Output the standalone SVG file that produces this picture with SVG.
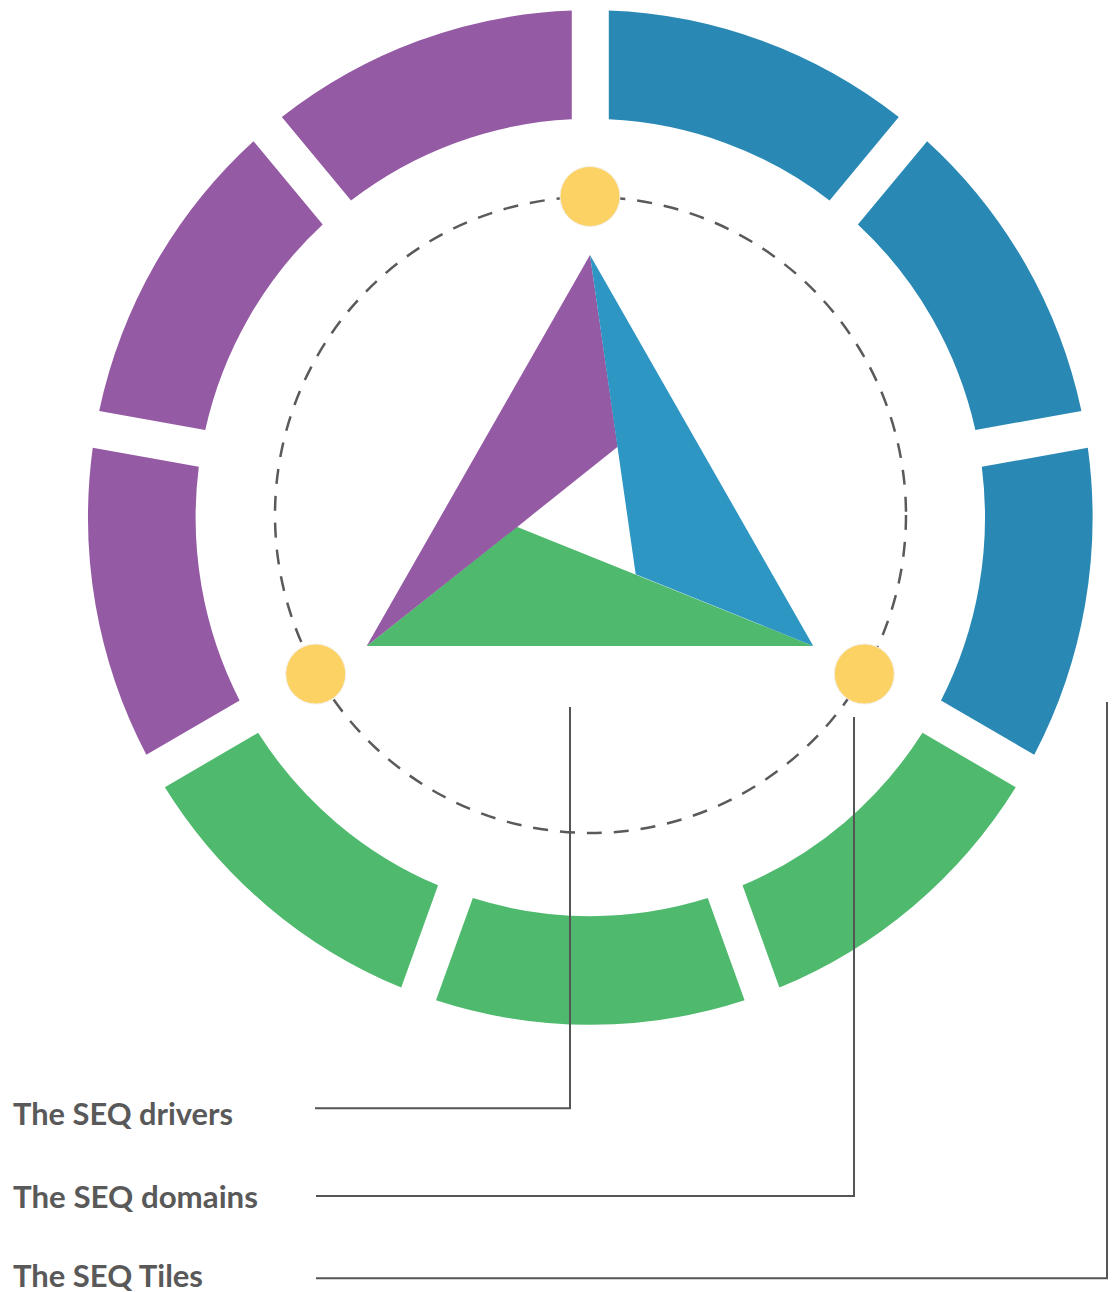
<svg xmlns="http://www.w3.org/2000/svg" xmlns:xlink="http://www.w3.org/1999/xlink" width="1113" height="1292" viewBox="0 0 1113 1292">
<style>
.purple{fill:#955AA4}
.blue{fill:#2A89B4}
.green{fill:#4FB96E}
.tblue{fill:#2D96C2}
.dot{fill:#FCD264;stroke:#f3efe4;stroke-width:1}
.dash{fill:none;stroke:#5a5a5a;stroke-width:2.5;stroke-dasharray:15 12}
.lead{fill:none;stroke:#555;stroke-width:2}
.label{font-family:Lato,"Open Sans",sans-serif;font-weight:700;font-size:30px;fill:#595959}
</style>
<defs>
<path id="seg" d="M18.5,-501.96 A502.3,502.3 0 0 1 308.48,-396.42 L239.26,-313.92 A394.7,394.7 0 0 0 18.5,-394.27 Z"/>
</defs>
<rect width="1113" height="1292" fill="#ffffff"/>
<g id="ring">
<g id="seg-blue-1"><use xlink:href="#seg" class="blue" transform="translate(590.3 517.5) scale(1 1.01) rotate(0)"/></g>
<g id="seg-blue-2"><use xlink:href="#seg" class="blue" transform="translate(590.3 517.5) scale(1 1.01) rotate(40)"/></g>
<g id="seg-blue-3"><use xlink:href="#seg" class="blue" transform="translate(590.3 517.5) scale(1 1.01) rotate(80)"/></g>
<g id="seg-green-1"><use xlink:href="#seg" class="green" transform="translate(590.3 517.5) scale(1 1.01) rotate(120)"/></g>
<g id="seg-green-2"><use xlink:href="#seg" class="green" transform="translate(590.3 517.5) scale(1 1.01) rotate(160)"/></g>
<g id="seg-green-3"><use xlink:href="#seg" class="green" transform="translate(590.3 517.5) scale(1 1.01) rotate(200)"/></g>
<g id="seg-purple-1"><use xlink:href="#seg" class="purple" transform="translate(590.3 517.5) scale(1 1.01) rotate(240)"/></g>
<g id="seg-purple-2"><use xlink:href="#seg" class="purple" transform="translate(590.3 517.5) scale(1 1.01) rotate(280)"/></g>
<g id="seg-purple-3"><use xlink:href="#seg" class="purple" transform="translate(590.3 517.5) scale(1 1.01) rotate(320)"/></g>
</g>
<g id="orbit">
<ellipse class="dash" cx="590.5" cy="515" rx="315.5" ry="318"/>
</g>
<g id="triangle">
<polygon class="green" points="366.7,646 813.3,646 516.7,526.7"/>
<polygon class="purple" points="590,255 366.7,646 517.2,526.9 617.7,446.7"/>
<polygon class="tblue" points="590,255 813.3,646 635.7,574.2"/>
</g>
<g id="dots">
<circle class="dot" cx="590" cy="196.5" r="30"/>
<circle class="dot" cx="315.7" cy="674" r="30"/>
<circle class="dot" cx="864.3" cy="674" r="30"/>
</g>
<g id="connectors">
<polyline class="lead" points="570,707 570,1108.3 315,1108.3"/>
<polyline class="lead" points="854,717 854,1196 316,1196"/>
<polyline class="lead" points="1107,702 1107,1278.3 316,1278.3"/>
</g>
<g id="label-drivers"><text class="label" x="13" y="1125" textLength="220" lengthAdjust="spacingAndGlyphs">The SEQ drivers</text></g>
<g id="label-domains"><text class="label" x="13" y="1208" textLength="245" lengthAdjust="spacingAndGlyphs">The SEQ domains</text></g>
<g id="label-tiles"><text class="label" x="13" y="1287" textLength="190" lengthAdjust="spacingAndGlyphs">The SEQ Tiles</text></g>
</svg>
